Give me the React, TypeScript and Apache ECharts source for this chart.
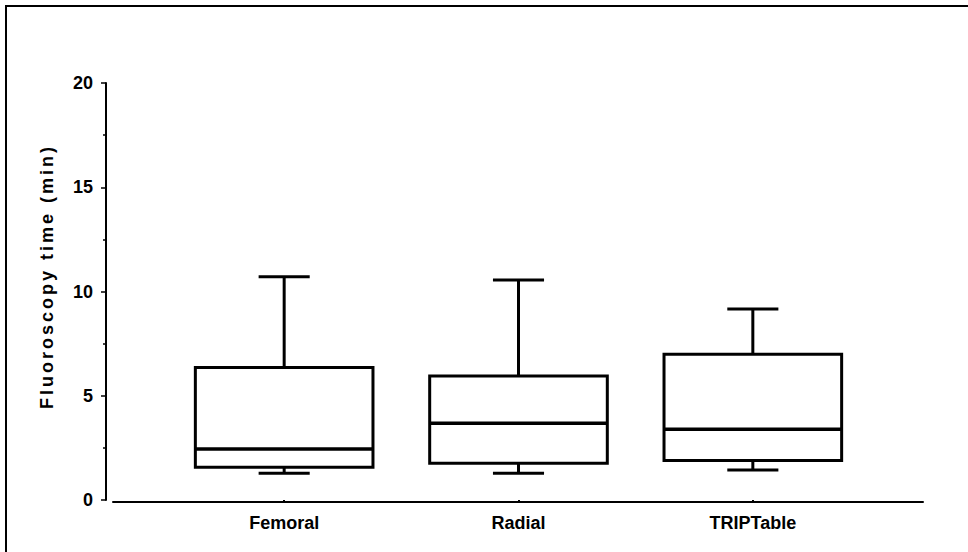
import React, { useEffect, useRef } from "react";
import * as echarts from "echarts";

// Fluoroscopy time per access route: five-number summaries (min)
const categories = ["Femoral", "Radial", "TRIPTable"];
const whiskerLow = [1.28, 1.28, 1.44];
const quartile1 = [1.57, 1.76, 1.89];
const medians = [2.45, 3.68, 3.39];
const quartile3 = [6.35, 5.95, 6.99];
const whiskerHigh = [10.71, 10.55, 9.16];
const yTicks = [0, 5, 10, 15, 20];

const axisTitle = "Fluoroscopy time (min)";
const FONT = "'Liberation Sans', Arial, sans-serif";
const TITLE_FONT = "'Liberation Sans', Arimo, sans-serif";

export default function App() {
  const ref = useRef<HTMLDivElement>(null);

  useEffect(() => {
    if (!ref.current) return;
    const chart = echarts.init(ref.current, undefined, { renderer: "svg" });

    const data = categories.map((_, i) => [
      i,
      whiskerLow[i],
      quartile1[i],
      medians[i],
      quartile3[i],
      whiskerHigh[i],
    ]);

    const renderItem = (params: any, api: any) => {
      const idx = api.value(0);
      const pMin = api.coord([idx, api.value(1)]);
      const pQ1 = api.coord([idx, api.value(2)]);
      const pMed = api.coord([idx, api.value(3)]);
      const pQ3 = api.coord([idx, api.value(4)]);
      const pMax = api.coord([idx, api.value(5)]);
      const band = api.size([1, 0])[0];
      const half = band * 0.379;
      const cap = band * 0.109;
      const cx = pMed[0];
      const st = { stroke: "#000", lineWidth: 3, fill: "none" };
      return {
        type: "group",
        children: [
          { type: "line", shape: { x1: cx, y1: pQ3[1], x2: cx, y2: pMax[1] }, style: st },
          { type: "line", shape: { x1: cx - cap, y1: pMax[1], x2: cx + cap, y2: pMax[1] }, style: st },
          { type: "line", shape: { x1: cx, y1: pQ1[1], x2: cx, y2: pMin[1] }, style: st },
          { type: "line", shape: { x1: cx - cap, y1: pMin[1], x2: cx + cap, y2: pMin[1] }, style: st },
          {
            type: "rect",
            shape: { x: cx - half, y: pQ3[1], width: half * 2, height: pQ1[1] - pQ3[1] },
            style: { stroke: "#000", lineWidth: 3, fill: "#fff" },
          },
          {
            type: "line",
            shape: { x1: cx - half, y1: pMed[1], x2: cx + half, y2: pMed[1] },
            style: { stroke: "#000", lineWidth: 3.5, fill: "none" },
          },
        ],
      };
    };

    chart.setOption({
      animation: false,
      backgroundColor: "#fff",
      grid: [
        { left: 167, right: 98, top: 83, bottom: 52 },
        { left: 113, right: 45, top: 83, bottom: 50 },
      ],
      xAxis: [
        {
          type: "category",
          gridIndex: 0,
          data: categories,
          offset: 2,
          axisLine: { show: false },
          axisTick: { show: true, alignWithLabel: true, length: 3, lineStyle: { color: "#000", width: 2 } },
          axisLabel: { color: "#000", fontSize: 18, fontWeight: "bold", fontFamily: FONT, margin: 12 },
          splitLine: { show: false },
        },
        {
          type: "value",
          gridIndex: 1,
          min: 0,
          max: 1,
          axisLine: { show: true, lineStyle: { color: "#000", width: 2 } },
          axisTick: { show: false },
          axisLabel: { show: false },
          splitLine: { show: false },
        },
      ],
      yAxis: [
        {
          type: "value",
          gridIndex: 0,
          min: yTicks[0],
          max: yTicks[yTicks.length - 1],
          interval: yTicks[1] - yTicks[0],
          offset: 61,
          name: axisTitle,
          nameLocation: "middle",
          nameGap: 50,
          nameTextStyle: {
            color: "#000",
            fontSize: 18,
            fontWeight: "bold",
            fontFamily: TITLE_FONT,
            padding: [0, 0, 0, 30],
          },
          axisLine: { show: true, lineStyle: { color: "#000", width: 2 } },
          axisTick: { show: true, length: 5, lineStyle: { color: "#000", width: 1.5 } },
          minorTick: { show: true, splitNumber: 2, length: 3, lineStyle: { color: "#000", width: 1.5 } },
          axisLabel: { color: "#000", fontSize: 18, fontWeight: "bold", fontFamily: FONT, margin: 13 },
          splitLine: { show: false },
          minorSplitLine: { show: false },
        },
        {
          type: "value",
          gridIndex: 1,
          show: false,
        },
      ],
      graphic: [
        {
          type: "polyline",
          shape: { points: [[6, 552], [6, 6], [968, 6]] },
          style: { stroke: "#000", lineWidth: 2, fill: "none" },
          silent: true,
        },
      ],
      series: [
        {
          type: "custom",
          xAxisIndex: 0,
          yAxisIndex: 0,
          data,
          encode: { x: 0, y: [1, 2, 3, 4, 5] },
          renderItem,
        },
      ],
    });

    return () => chart.dispose();
  }, []);

  return (
    <>
      <style>{`text[style*="Arimo"]{letter-spacing:3px}`}</style>
      <div
        ref={ref}
        style={{ position: "fixed", left: 0, top: 0, width: 968, height: 552 }}
      />
    </>
  );
}
